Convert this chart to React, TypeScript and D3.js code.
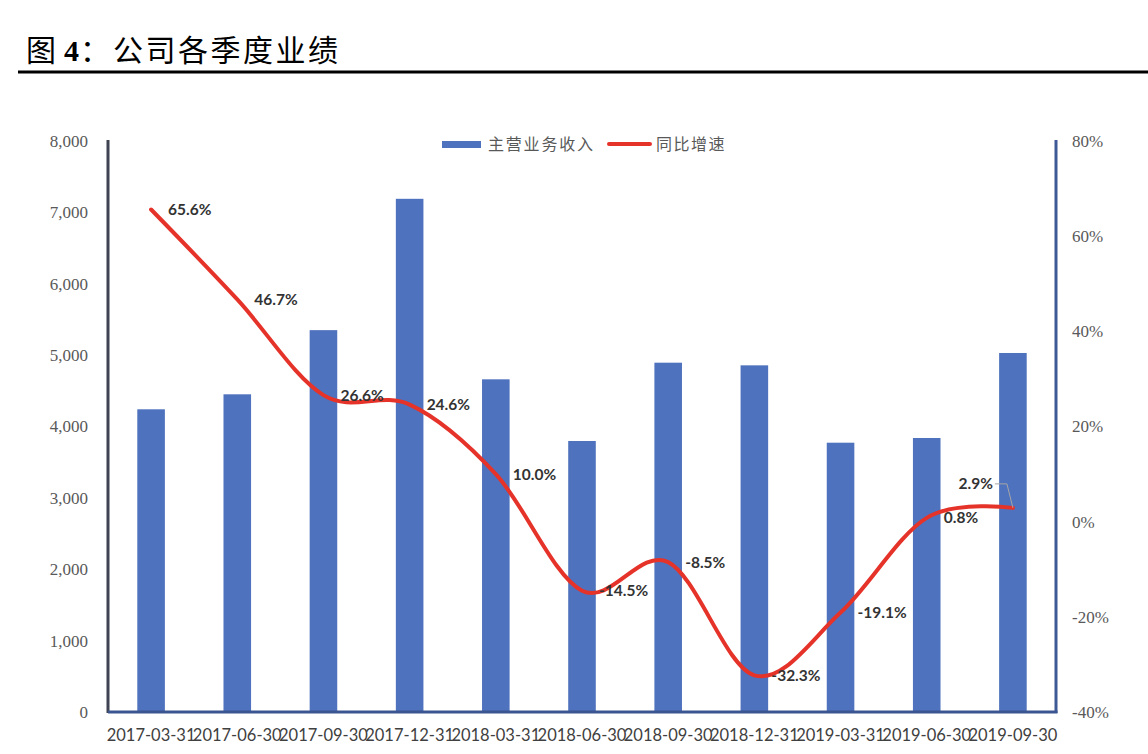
import React from "react";
import * as d3 from "d3";

const categories = [
  "2017-03-31", "2017-06-30", "2017-09-30", "2017-12-31",
  "2018-03-31", "2018-06-30", "2018-09-30", "2018-12-31",
  "2019-03-31", "2019-06-30", "2019-09-30",
];
const revenue = [4241, 4451, 5350, 7190, 4661, 3797, 4894, 4857, 3773, 3839, 5030];
const growth = [65.6, 46.7, 26.6, 24.6, 10.0, -14.5, -8.5, -32.3, -19.1, 0.8, 2.9];
const leftTicks = [0, 1000, 2000, 3000, 4000, 5000, 6000, 7000, 8000];
const rightTicks = [-40, -20, 0, 20, 40, 60, 80];

const W = 1148;
const H = 754;
const M = { left: 108, right: 1056, top: 141, bottom: 712 };

export default function App() {
  const x = d3.scaleBand<string>().domain(categories).range([M.left, M.right]).paddingInner(0.68).paddingOuter(0.34);
  const xc = (c: string) => (x(c) as number) + x.bandwidth() / 2;
  const yL = d3.scaleLinear().domain([0, 8000]).range([M.bottom, M.top]);
  const yR = d3.scaleLinear().domain([-40, 80]).range([M.bottom, M.top]);
  const fmtL = d3.format(",");
  const line = d3
    .line<number>()
    .x((_, i) => xc(categories[i]))
    .y((d) => yR(d))
    .curve(d3.curveCatmullRom.alpha(0));

  const lastI = growth.length - 1;
  const lastX = xc(categories[lastI]);
  const lastY = yR(growth[lastI]);

  return (
    <svg width={W} height={H} style={{ position: "absolute", left: 0, top: 0, background: "#fff" }}>
      {/* Title */}
      <text y={61} fontSize={30} fill="#000">
        <tspan x={26} fontFamily="'Noto Sans CJK SC'">图</tspan>
        <tspan x={64} fontFamily="'Liberation Serif'" fontWeight="bold">4</tspan>
        <tspan x={80} fontFamily="'Noto Sans CJK SC'">：</tspan>
        <tspan x={113} fontFamily="'Noto Sans CJK SC'" letterSpacing={2.5}>公司各季度业绩</tspan>
      </text>
      <line x1={18} x2={W} y1={72} y2={72} stroke="#000" strokeWidth={3} />

      {/* Bars */}
      {revenue.map((v, i) => (
        <rect
          key={categories[i]}
          x={x(categories[i])}
          y={yL(v)}
          width={x.bandwidth()}
          height={yL(0) - yL(v)}
          fill="#4e72bd"
        />
      ))}

      {/* Axes lines */}
      <line x1={M.left} x2={M.left} y1={M.top - 1} y2={M.bottom + 1} stroke="#3f4352" strokeWidth={3} />
      <line x1={M.right} x2={M.right} y1={M.top - 1} y2={M.bottom + 1} stroke="#3e5a96" strokeWidth={3} />
      <line x1={M.left} x2={M.right + 1.5} y1={M.bottom} y2={M.bottom} stroke="#3a5590" strokeWidth={3} />

      {/* Left ticks */}
      {leftTicks.map((t) => (
        <text key={t} x={88} y={yL(t)} dy="0.35em" textAnchor="end" fontFamily="'Liberation Serif'" fontSize={17} fill="#595959">
          {fmtL(t)}
        </text>
      ))}
      {/* Right ticks */}
      {rightTicks.map((t) => (
        <text key={t} x={1072} y={yR(t)} dy="0.35em" textAnchor="start" fontFamily="'Liberation Serif'" fontSize={17} fill="#595959">
          {t + "%"}
        </text>
      ))}
      {/* X labels */}
      {categories.map((c) => (
        <text key={c} x={xc(c)} y={741} textAnchor="middle" fontFamily="Lato" fontSize={16.5} fill="#404040">
          {c}
        </text>
      ))}

      {/* Line */}
      <path d={line(growth) || ""} fill="none" stroke="#e5332a" strokeWidth={4} strokeLinecap="round" />

      {/* Data labels */}
      {growth.map((g, i) => {
        if (i === lastI) return null;
        return (
          <text
            key={i}
            x={xc(categories[i]) + 17}
            y={yR(g)}
            dy="0.35em"
            fontFamily="Lato"
            fontWeight="bold"
            fontSize={15.5}
            fill="#333"
          >
            {g.toFixed(1) + "%"}
          </text>
        );
      })}
      <polyline
        points={`${lastX - 18},${lastY - 24} ${lastX - 6},${lastY - 24} ${lastX},${lastY}`}
        fill="none"
        stroke="#a6a6a6"
        strokeWidth={1}
      />
      <text x={lastX - 20} y={lastY - 24} dy="0.35em" textAnchor="end" fontFamily="Lato" fontWeight="bold" fontSize={15.5} fill="#333">
        {growth[lastI].toFixed(1) + "%"}
      </text>

      {/* Legend */}
      <rect x={442} y={141} width={39} height={7} fill="#4e72bd" />
      <text x={488} y={144} dy="0.35em" fontFamily="'Noto Sans CJK SC'" fontSize={16} letterSpacing={1.8} fill="#595959">
        主营业务收入
      </text>
      <line x1={609} x2={650} y1={144} y2={144} stroke="#e5332a" strokeWidth={4} strokeLinecap="round" />
      <text x={656} y={144} dy="0.35em" fontFamily="'Noto Sans CJK SC'" fontSize={16} letterSpacing={1.5} fill="#595959">
        同比增速
      </text>
    </svg>
  );
}
